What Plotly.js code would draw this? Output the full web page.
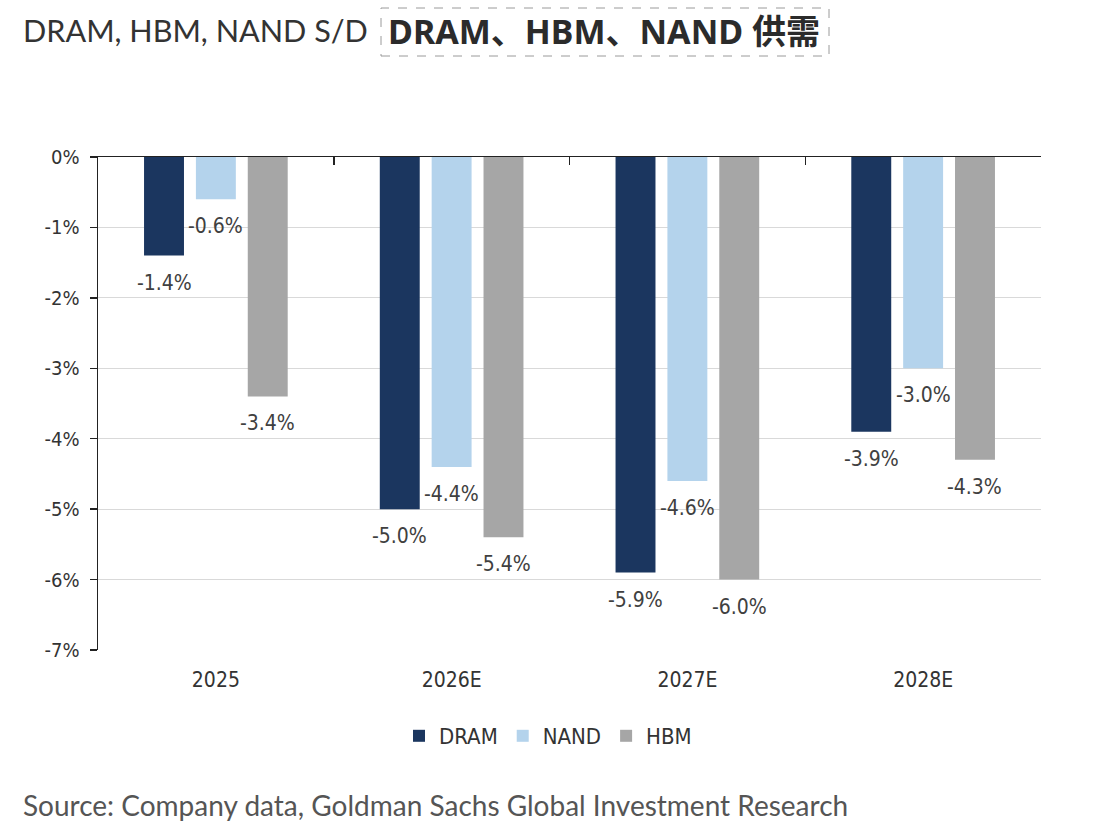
<!DOCTYPE html>
<html>
<head>
<meta charset="utf-8">
<script src="https://cdn.plot.ly/plotly-3.0.1.min.js"></script>
<style>
  html, body { margin: 0; padding: 0; background: #fff; }
  #chart { width: 1094px; height: 828px; }
</style>
</head>
<body>
<div id="chart"></div>
<script>
// ---- data ----
const categories = ['2025', '2026E', '2027E', '2028E'];
const seriesNames = ['DRAM', 'NAND', 'HBM'];
const dramValues = [-1.4, -5.0, -5.9, -3.9];
const nandValues = [-0.6, -4.4, -4.6, -3.0];
const hbmValues  = [-3.4, -5.4, -6.0, -4.3];
const yTickVals  = [0, -1, -2, -3, -4, -5, -6, -7];
const yTickText  = ['0%', '-1%', '-2%', '-3%', '-4%', '-5%', '-6%', '-7%'];

// ---- styles ----
const colors = ['#1b365f', '#b4d3ec', '#a6a6a6'];
const chartFont = 'DejaVu Sans Condensed, DejaVu Sans, sans-serif';
const W = 1094, H = 828;
const margin = {l: 98, r: 53, t: 157, b: 178};
const bargap = 0.34, bargroupgap = 0.23;
const plotW = W - margin.l - margin.r;
const plotH = H - margin.t - margin.b;
const slotPx = plotW / categories.length * (1 - bargap) / seriesNames.length;

const allValues = [dramValues, nandValues, hbmValues];

const traces = allValues.map((vals, i) => ({
  type: 'bar',
  name: seriesNames[i],
  x: categories,
  y: vals,
  marker: {color: colors[i]},
  hoverinfo: 'skip'
}));

// invisible trace to carry the top axis (zero line with boundary ticks)
traces.push({
  type: 'scatter', mode: 'markers', x: categories, y: categories.map(() => 0),
  xaxis: 'x2', yaxis: 'y', marker: {opacity: 0}, showlegend: false, hoverinfo: 'skip'
});

const annotations = [];
allValues.forEach((vals, i) => {
  vals.forEach((v, j) => {
    annotations.push({
      xref: 'x', yref: 'y', x: j, y: v,
      text: v.toFixed(1) + '%', showarrow: false,
      xshift: (i - 1) * slotPx, yshift: -27,
      xanchor: 'center', yanchor: 'middle',
      font: {family: chartFont, size: 21, color: '#404040'}
    });
  });
});

const px2x = p => (p - margin.l) / plotW;
const py2y = p => (H - margin.b - p) / plotH;

annotations.push({
  xref: 'paper', yref: 'paper', x: px2x(21), y: py2y(30),
  xanchor: 'left', yanchor: 'middle', showarrow: false,
  text: 'DRAM, HBM, NAND S/D',
  font: {family: 'Lato, sans-serif', size: 30.6, color: '#333333'}
});
annotations.push({
  xref: 'paper', yref: 'paper', x: px2x(604), y: py2y(31),
  xanchor: 'center', yanchor: 'middle', showarrow: false,
  text: '<b>DRAM、HBM、NAND 供需</b>',
  font: {family: 'Noto Sans, Noto Sans CJK SC, sans-serif', size: 34, color: '#2b2b2b'}
});
annotations.push({
  xref: 'paper', yref: 'paper', x: px2x(21), y: py2y(805),
  xanchor: 'left', yanchor: 'middle', showarrow: false,
  text: 'Source: Company data, Goldman Sachs Global Investment Research',
  font: {family: 'Lato, sans-serif', size: 28, color: '#555555'}
});

const layout = {
  width: W, height: H,
  margin: margin,
  paper_bgcolor: '#ffffff', plot_bgcolor: '#ffffff',
  barmode: 'group', bargap: bargap, bargroupgap: bargroupgap,
  font: {family: chartFont, size: 20, color: '#333333'},
  showlegend: true,
  legend: {
    orientation: 'h', x: px2x(548), xanchor: 'center',
    y: py2y(736), yanchor: 'middle',
    font: {family: chartFont, size: 22, color: '#333333'},
    itemwidth: 30
  },
  xaxis: {
    type: 'category', categoryarray: categories,
    showline: false, ticks: '', showgrid: false, zeroline: false,
    ticklabelstandoff: 15,
    tickfont: {family: chartFont, size: 21, color: '#333333'},
    range: [-0.5, 3.5], fixedrange: true
  },
  xaxis2: {
    type: 'category', categoryarray: categories, overlaying: 'x', side: 'top',
    matches: 'x', range: [-0.5, 3.5],
    showline: true, linecolor: '#222222', linewidth: 1.5,
    ticks: 'inside', tickson: 'boundaries', ticklen: 8, tickcolor: '#222222', tickwidth: 1.5,
    showticklabels: false, showgrid: false, zeroline: false
  },
  yaxis: {
    range: [-7, 0], tickvals: yTickVals, ticktext: yTickText,
    showline: true, linecolor: '#222222', linewidth: 1.5,
    ticks: 'outside', ticklen: 7, tickcolor: '#222222', tickwidth: 1.5,
    showgrid: true, gridcolor: '#d9d9d9', gridwidth: 1,
    zeroline: false, ticklabelstandoff: 6,
    tickfont: {family: chartFont, size: 20, color: '#333333'},
    fixedrange: true
  },
  annotations: annotations,
  shapes: [{
    type: 'rect', xref: 'paper', yref: 'paper',
    x0: px2x(381), x1: px2x(829),
    y0: py2y(56), y1: py2y(8),
    line: {color: '#9a9a9a', width: 1, dash: 'dash'}, fillcolor: 'rgba(0,0,0,0)'
  }]
};

Plotly.newPlot('chart', traces, layout, {staticPlot: true, displayModeBar: false});
</script>
</body>
</html>
